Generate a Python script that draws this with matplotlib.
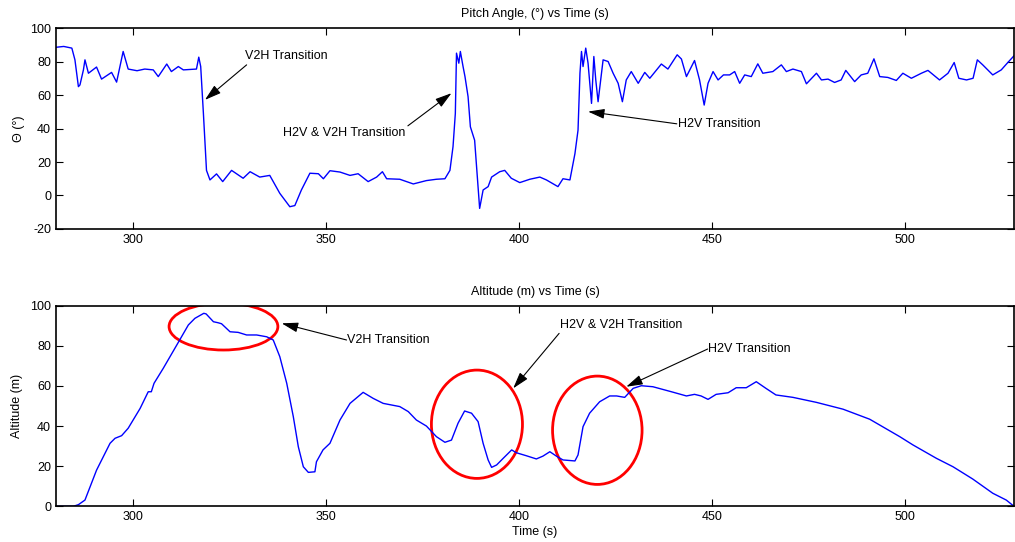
import matplotlib
matplotlib.use("Agg")
import matplotlib.pyplot as plt
from matplotlib.patches import Ellipse

plt.rcParams['font.family'] = ['Liberation Sans', 'DejaVu Sans']
plt.rcParams['font.size'] = 9
plt.rcParams['axes.unicode_minus'] = False

# %%
# data
pitch_t = [280.0, 282.0, 284.1, 284.9, 285.8, 286.2, 287.1, 287.5, 288.4, 290.5,
           291.8, 294.4, 295.7, 297.4, 298.7, 301.0, 303.0, 305.2, 306.5, 308.7,
           309.9, 311.7, 313.0, 316.4, 317.0, 317.5, 318.2, 319.0, 319.9, 321.6,
           323.2, 325.5, 328.5, 330.3, 332.8, 335.4, 338.0, 340.6, 341.9, 343.6,
           345.8, 348.0, 349.3, 351.0, 353.6, 356.2, 358.3, 360.9, 363.1, 364.6,
           365.7, 369.1, 372.6, 376.0, 378.6, 380.8, 382.1, 382.9, 383.5, 383.8,
           384.4, 384.8, 385.5, 386.0, 386.8, 387.4, 388.5, 389.4, 389.8, 390.7,
           392.0, 392.9, 395.0, 396.3, 398.0, 400.2, 402.8, 405.4, 407.1, 410.1,
           411.4, 413.2, 414.5, 415.3, 415.8, 416.2, 416.6, 417.3, 417.9, 418.8,
           419.4, 419.9, 420.5, 421.4, 421.8, 423.1, 424.4, 425.7, 426.8, 427.8,
           429.1, 430.9, 432.6, 433.9, 436.9, 438.6, 441.0, 442.1, 443.4, 445.5,
           446.8, 448.0, 449.0, 450.3, 451.6, 453.0, 454.6, 455.9, 457.2, 458.5,
           460.2, 461.9, 463.2, 465.8, 468.0, 469.3, 471.0, 473.2, 474.5, 477.1,
           478.4, 480.1, 481.8, 483.5, 484.7, 487.0, 488.7, 490.4, 492.0, 493.5,
           495.6, 497.8, 499.5, 501.7, 504.3, 506.0, 509.0, 511.2, 512.8, 514.0,
           516.0, 517.7, 518.8, 520.2, 522.8, 525.0, 526.7, 528.3]
pitch_deg = [88.5, 89.0, 88.0, 81.0, 65.0, 66.0, 75.0, 81.0, 73.0, 76.7,
             69.5, 73.5, 67.7, 86.0, 75.5, 74.5, 75.5, 75.0, 71.0, 78.5,
             74.0, 77.0, 75.0, 75.5, 82.6, 77.0, 49.0, 15.0, 9.3, 12.9,
             8.3, 15.0, 10.3, 14.2, 11.0, 12.0, 1.3, -6.7, -6.0, 3.3,
             13.3, 13.0, 10.0, 14.8, 14.0, 12.0, 13.0, 8.3, 11.0, 14.2,
             10.0, 9.7, 6.9, 8.9, 9.7, 10.0, 15.0, 29.2, 49.0, 85.0,
             79.0, 86.0, 77.0, 71.0, 59.0, 41.0, 33.0, 5.3, -7.7, 3.3,
             5.3, 11.0, 14.2, 15.0, 10.3, 7.7, 9.7, 11.0, 9.3, 5.3,
             10.0, 9.3, 25.0, 39.0, 73.0, 86.0, 77.0, 88.0, 79.0, 55.0,
             83.0, 69.0, 56.0, 73.0, 81.0, 80.0, 73.0, 67.0, 56.0, 69.0,
             74.0, 67.0, 73.5, 70.0, 78.5, 75.5, 84.0, 81.5, 71.0, 80.6,
             69.0, 54.0, 67.0, 74.0, 69.0, 72.0, 72.0, 74.0, 67.0, 72.0,
             71.0, 78.6, 73.0, 74.0, 78.0, 74.0, 75.5, 74.0, 66.7, 73.0,
             69.0, 69.5, 67.5, 69.0, 74.7, 68.0, 72.0, 73.0, 81.6, 71.0,
             70.5, 68.7, 73.0, 70.0, 73.0, 74.7, 69.0, 73.0, 79.4, 70.0,
             69.0, 70.0, 81.0, 78.0, 72.0, 75.0, 79.4, 83.4]

alt_t = [280.0, 284.5, 285.8, 287.5, 290.5, 294.0, 295.3, 297.0, 298.7, 301.8,
         303.9, 304.7, 305.4, 307.8, 311.3, 314.3, 316.0, 318.3, 318.9, 320.8,
         322.0, 322.9, 325.1, 327.2, 329.4, 332.0, 334.6, 336.3, 338.0, 339.8,
         341.5, 342.8, 344.1, 345.4, 347.1, 347.5, 349.2, 351.0, 353.6, 356.2,
         359.6, 362.2, 364.8, 369.1, 371.3, 373.4, 376.0, 378.6, 380.8, 382.5,
         384.2, 385.9, 387.7, 389.4, 390.7, 392.0, 392.9, 394.2, 395.9, 398.1,
         399.3, 401.9, 404.5, 406.2, 408.0, 409.7, 411.4, 414.5, 415.3, 416.6,
         418.3, 420.9, 423.5, 425.3, 427.4, 429.6, 431.7, 434.7, 439.5, 443.4,
         445.5, 447.2, 449.0, 451.1, 454.2, 456.3, 458.9, 461.5, 464.0, 466.6,
         471.0, 477.1, 484.0, 490.9, 493.5, 498.7, 502.1, 508.2, 512.5, 517.6,
         522.8, 526.3, 528.3]
alt_m = [0.0, 0.0, 0.8, 3.1, 18.0, 31.4, 33.9, 35.2, 38.9, 48.8,
         57.1, 57.1, 61.3, 68.8, 80.4, 90.4, 93.7, 96.2, 95.9, 92.0,
         91.5, 91.0, 87.0, 86.7, 85.4, 85.4, 84.5, 82.9, 74.6, 61.3,
         44.7, 29.7, 19.7, 16.9, 17.2, 22.2, 28.1, 31.4, 43.0, 51.3,
         56.8, 53.8, 51.3, 49.7, 47.2, 43.0, 40.0, 34.7, 31.9, 33.0,
         41.4, 47.5, 46.4, 42.2, 31.4, 23.1, 19.4, 20.6, 23.9, 28.1,
         26.7, 25.2, 23.6, 25.0, 27.2, 25.0, 23.1, 22.6, 25.6, 39.7,
         46.4, 52.1, 55.0, 55.0, 54.3, 58.8, 60.1, 59.6, 57.1, 55.0,
         55.8, 55.0, 53.3, 55.8, 56.6, 59.1, 59.1, 62.1, 58.8, 55.5,
         54.3, 51.8, 48.4, 43.4, 40.5, 34.7, 30.6, 23.9, 19.7, 13.6,
         6.5, 3.1, 0.0]

# annotations: (text, text pos, arrow tail, arrow head)
pitch_notes = [("V2H Transition", (329.0, 83.4), (329.4, 78.0), (318.6, 57.1)),
               ("H2V & V2H Transition", (338.8, 37.4), (371.2, 41.6), (382.5, 61.1)),
               ("H2V Transition", (441.1, 42.8), (440.9, 42.8), (417.9, 50.1))]
alt_notes = [("V2H Transition", (355.3, 82.9), (355.3, 82.9), (338.5, 91.2)),
             ("H2V & V2H Transition", (410.6, 90.4), (410.4, 86.2), (398.5, 58.8)),
             ("H2V Transition", (449.0, 78.4), (448.9, 78.4), (427.8, 59.6))]
# circled regions: (centre t, centre alt, width s, height m)
circles = [(323.4, 89.6, 28.2, 23.4),
           (389.1, 40.9, 23.6, 54.0),
           (420.3, 37.9, 23.2, 54.0)]

# %%
fig = plt.figure(figsize=(10.15, 5.42), dpi=100)
ax1 = fig.add_axes([0.0552, 0.5775, 0.9438, 0.3708])
ax2 = fig.add_axes([0.0552, 0.0659, 0.9438, 0.3701])


def style(ax, ylim, yticks):
    ax.set_xlim(280, 528.3)
    ax.set_ylim(*ylim)
    ax.set_xticks([300, 350, 400, 450, 500])
    ax.set_yticks(yticks)
    ax.tick_params(direction='in', length=5, width=0.8, top=True, right=True,
                   labelsize=9, colors='black')
    for s in ax.spines.values():
        s.set_linewidth(1.2)


def notes(ax, items):
    for txt, pos, tail, head in items:
        ax.text(pos[0], pos[1], txt, ha='left', va='center', fontsize=9)
        ax.annotate("", xy=head, xytext=tail,
                    arrowprops=dict(arrowstyle='-|>,head_length=1.0,head_width=0.3',
                                    mutation_scale=10, color='black', lw=0.8,
                                    shrinkA=0, shrinkB=0))


ax1.plot(pitch_t, pitch_deg, color='#0000ff', lw=1.0)
style(ax1, (-20, 100), range(-20, 101, 20))
ax1.set_title("Pitch Angle, (°) vs Time (s)", fontsize=9, pad=8)
ax1.set_ylabel("Θ (°)", fontsize=9, labelpad=4)
notes(ax1, pitch_notes)

ax2.plot(alt_t, alt_m, color='#0000ff', lw=1.0)
style(ax2, (0, 100), range(0, 101, 20))
ax2.set_title("Altitude (m) vs Time (s)", fontsize=9, pad=8)
ax2.set_ylabel("Altitude (m)", fontsize=9, labelpad=5)
ax2.set_xlabel("Time (s)", fontsize=9, labelpad=2)
for cx, cy, w, h in circles:
    ax2.add_patch(Ellipse((cx, cy), w, h, fill=False, edgecolor='red', lw=2))
notes(ax2, alt_notes)

fig.savefig("out.png", dpi=100)
